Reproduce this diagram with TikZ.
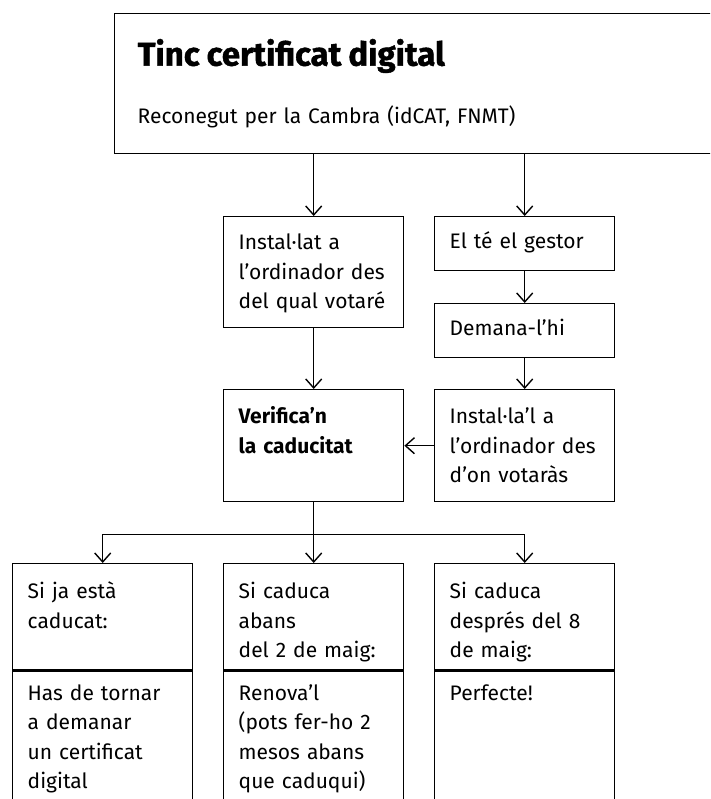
\documentclass[tikz,border=0pt]{standalone}
\usepackage{fontspec}
\setmainfont{Fira Sans}
\newfontfamily\titlefam{Fira Sans}[BoldFeatures={FakeBold=1.2}]
\usetikzlibrary{arrows.meta}
\newcommand{\flowtext}{\fontsize{21}{29.5}\selectfont}
\newcommand{\certtitle}{\titlefam\fontsize{33}{40}\selectfont\bfseries}
\tikzset{
  box/.style={draw, line width=1.4pt, anchor=north west, inner xsep=15pt, inner ysep=0pt,
    text width=150pt, align=left, font=\flowtext},
  arr/.style={-{Straight Barb[length=9pt,width=16pt]}, line width=1.4pt},
}
\begin{document}
\begin{tikzpicture}[x=1pt,y=-1pt]
\useasboundingbox (0,0) rectangle (710,799);
\clip (0,0) rectangle (710,799);
\node[box, inner xsep=23pt, text width=570pt, text height=52pt, text depth=88pt] (cert) at (114,13)
  {{\certtitle Tinc certificat digital}\\[28pt]Reconegut per la Cambra (idCAT, FNMT)};
\node[box, text height=33pt, text depth=78pt] (inst) at (223,216) {Instal·lat a\\l’ordinador des\\del qual votaré};
\node[box, text height=32pt, text depth=22pt] (gest) at (434,216) {El té el gestor};
\node[box, text height=32pt, text depth=22pt] (dem) at (434,303) {Demana-l’hi};
\node[box, text height=34pt, text depth=78pt] (verif) at (223,389) {\bfseries Verifica’n\\la caducitat};
\node[box, text height=34pt, text depth=78pt] (inst2) at (434,389) {Instal·la’l a\\l’ordinador des\\d’on votaràs};
% three cases
\node[box, text height=35pt, text depth=71pt] (exp) at (12,563) {Si ja està\\caducat:};
\node[box, text height=35pt, text depth=71pt] (before) at (223,563) {Si caduca\\abans\\del 2 de maig:};
\node[box, text height=35pt, text depth=71pt] (after) at (434,563) {Si caduca\\després del 8\\de maig:};
\node[box, text height=29pt, text depth=150pt] (expans) at (exp.south west) {Has de tornar\\a demanar\\un certificat\\digital};
\node[box, text height=29pt, text depth=150pt] (beforeans) at (before.south west) {Renova’l\\(pots fer-ho 2\\mesos abans\\que caduqui)};
\node[box, text height=29pt, text depth=150pt] (afterans) at (after.south west) {Perfecte!};
% connectors
\draw[arr] (cert.south -| inst.north) -- (inst.north);
\draw[arr] (cert.south -| gest.north) -- (gest.north);
\draw[arr] (gest) -- (dem);
\draw[arr] (dem) -- (inst2);
\draw[arr] (inst) -- (verif);
\draw[arr] (inst2) -- (verif);
\coordinate (split) at ([yshift=-32pt]verif.south);
\draw[arr] (verif) -- (before);
\draw[arr] (split) -| (exp.north);
\draw[arr] (split) -| (after.north);
\end{tikzpicture}
\end{document}
